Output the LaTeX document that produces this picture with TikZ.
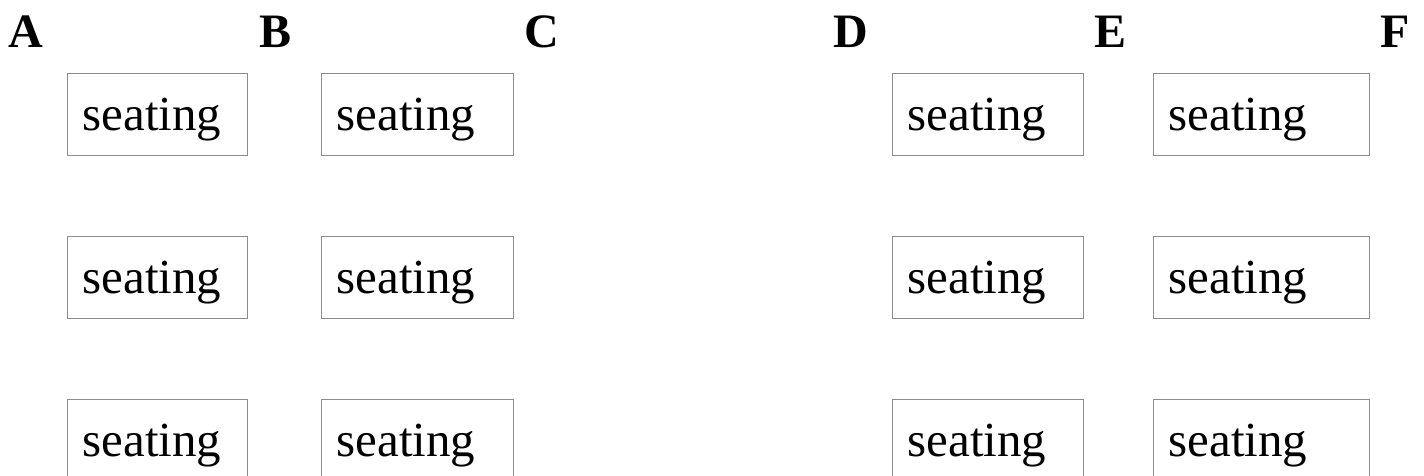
\documentclass[tikz,border=0pt]{standalone}
\usepackage{fontspec}
\setmainfont{Liberation Serif}
\begin{document}
\begin{tikzpicture}[x=1pt,y=-1pt,
  seat/.style={draw=black!45, line width=1.2pt, rectangle, anchor=north west,
    inner xsep=15pt, inner ysep=0pt, minimum height=82pt,
    text height=34pt, text depth=2pt, align=left,
    font=\fontsize{49}{55}\selectfont},
  colhead/.style={anchor=base west, inner sep=0pt,
    font=\fontsize{48}{54}\selectfont\bfseries}]
\useasboundingbox (0,0) rectangle (1424,475);
% column letters
\node[colhead] (A) at (8,47) {A};
\node[colhead] (B) at (259,47) {B};
\node[colhead] (C) at (524,47) {C};
\node[colhead] (D) at (833,47) {D};
\node[colhead] (E) at (1094,47) {E};
\node[colhead] (F) at (1380,47) {F};
% seating blocks, three rows per column
\foreach \r/\y in {1/73, 2/236, 3/399} {
  \node[seat, text width=150pt] (s1\r) at (67,\y) {seating};
  \node[seat, text width=162pt] (s2\r) at (321,\y) {seating};
  \node[seat, text width=161pt] (s3\r) at (892,\y) {seating};
  \node[seat, text width=186pt] (s4\r) at (1153,\y) {seating};
}
\end{tikzpicture}
\end{document}
